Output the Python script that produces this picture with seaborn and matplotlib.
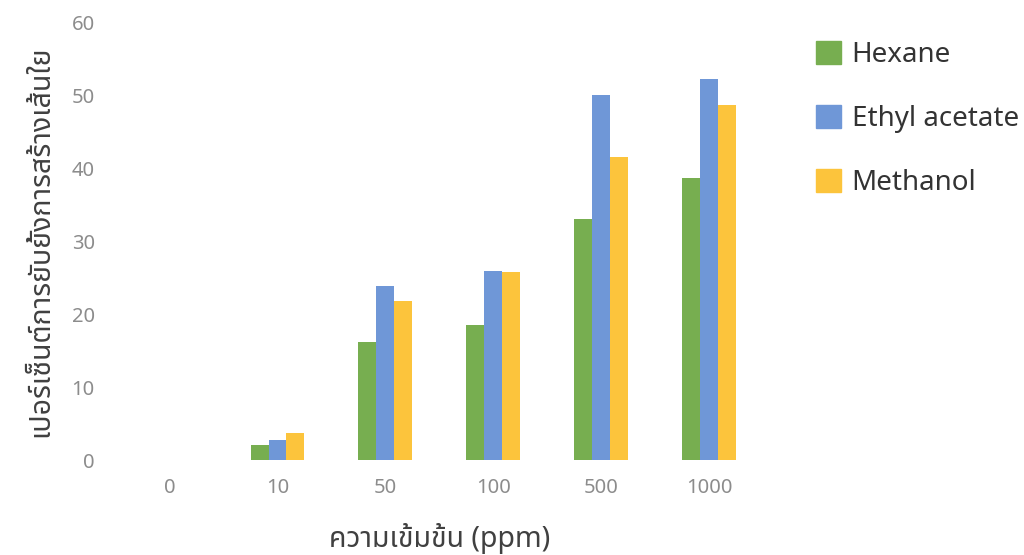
import matplotlib
matplotlib.use("Agg")
import matplotlib.pyplot as plt
import seaborn as sns
import pandas as pd

# Concentrations tested (ppm) and inhibition of mycelial growth (%) per solvent extract
concentrations = ["0", "10", "50", "100", "500", "1000"]
hexane = [0, 2.1, 16.2, 18.5, 33.1, 38.7]
ethyl_acetate = [0, 2.7, 23.9, 25.9, 50.0, 52.2]
methanol = [0, 3.7, 21.8, 25.8, 41.5, 48.6]
solvents = ["Hexane", "Ethyl acetate", "Methanol"]
colors = ["#77AE50", "#6F97D7", "#FCC43C"]

rows = []
for name, vals in zip(solvents, [hexane, ethyl_acetate, methanol]):
    for c, v in zip(concentrations, vals):
        rows.append({"conc": c, "solvent": name, "value": v})
df = pd.DataFrame(rows)

sns.set_theme(style="white")
plt.rcParams["font.family"] = ["Noto Sans Thai", "Noto Sans", "DejaVu Sans"]

fig = plt.figure(figsize=(10.24, 5.55), dpi=100)
ax = fig.add_axes([0.113, 0.171, 0.632, 0.789])

sns.barplot(data=df, x="conc", y="value", hue="solvent", order=concentrations,
            hue_order=solvents, palette=colors, width=0.5, gap=0,
            saturation=1, errorbar=None, linewidth=0, ax=ax, legend=False)

ax.set_ylim(0, 60)
ax.set_yticks(range(0, 61, 10))
ax.set_xlim(-0.5, len(concentrations) - 0.5)
for s in ax.spines.values():
    s.set_visible(False)
ax.tick_params(axis="both", length=0, labelsize=14.5, labelcolor="#8C8C8C")
ax.tick_params(axis="x", pad=13)
ax.tick_params(axis="y", pad=15)

ax.set_xlabel("ความเข้มข้น (ppm)", fontsize=20.5, color="#404040", labelpad=18)
ax.set_ylabel("เปอร์เซ็นต์การยับยั้งการสร้างเส้นใย", fontsize=20.5, color="#404040", labelpad=12)

handles = [plt.Rectangle((0, 0), 1, 1, color=c) for c in colors]
fig.legend(handles, solvents, loc="upper left", bbox_to_anchor=(0.772, 0.972),
           frameon=False, fontsize=20, labelcolor="#333333", handlelength=0.9,
           handleheight=0.9, labelspacing=1.3, handletextpad=0.4)

fig.savefig("out.png", dpi=100, facecolor="white")
